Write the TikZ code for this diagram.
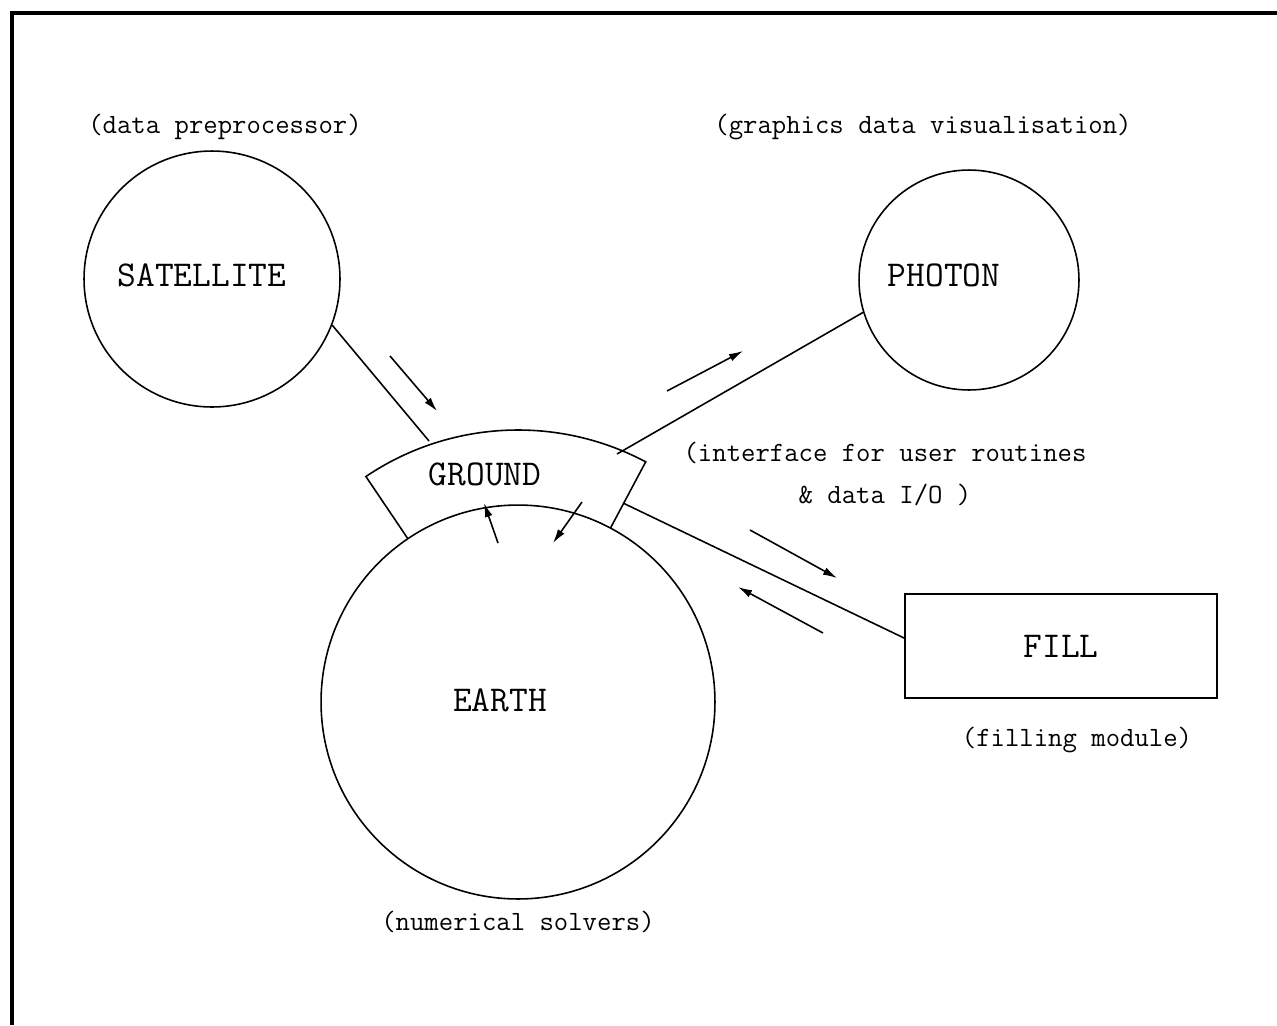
\documentclass[tikz,border=0pt]{standalone}
\usepackage{fontspec}
\usepackage{tikz}
\usetikzlibrary{arrows.meta, positioning, calc}

\begin{document}
\begin{tikzpicture}[x=0.02cm, y=-0.02cm, >={Latex[length=8pt, width=4.5pt]}]
        \tikzstyle{module_style} = [circle, draw=black, line width=0.9pt, inner sep=0pt]
        \tikzstyle{box_style} = [rectangle, draw=black, line width=0.9pt, minimum width=6.24cm, minimum height=2.08cm, font=\fontsize{20.7}{24}\ttfamily]
        \tikzstyle{name_font} = [font=\fontsize{20.7}{24}\ttfamily]
        \tikzstyle{caption_style} = [font=\fontsize{15.9}{23.8}\ttfamily, align=center]
        \tikzstyle{link} = [line width=0.9pt]
        \tikzstyle{flow} = [line width=0.9pt, ->]

        \useasboundingbox (0,0) rectangle (1277,1025);

        % Frame
        \draw [line width=2pt] (12,1025) -- (12,13) -- (1277,13);

        % Modules
        \node (sat) [module_style, minimum size=5.12cm, label={[name_font, xshift=-5.7pt, yshift=2.3pt]center:SATELLITE}] at (212,279) {};
        \node (photon) [module_style, minimum size=4.4cm, label={[name_font, xshift=-14.2pt, yshift=2.8pt]center:PHOTON}] at (969,280) {};
        \node (earth) [module_style, minimum size=7.88cm, label={[name_font, xshift=-10.2pt, yshift=1pt]center:EARTH}] at (518,702) {};
        \node (fill) [box_style] at (1061,646) {FILL};

        % Ground layer on top of earth
        \draw [link] ($(earth.center)+(-124:197)$) -- ($(earth.center)+(-124:272)$)
            arc [start angle=-124, end angle=-62, radius=272] -- ($(earth.center)+(-62:197)$);
        \node (ground) [name_font] at (485,474) {GROUND};

        % Connection points on ground
        \coordinate (g_sat) at (429,441);
        \coordinate (g_pho) at (617,454);
        \coordinate (g_fill) at (623,503);

        % Connectors
        \draw [link] (sat.-21) -- (g_sat);
        \draw [link] (photon.-163) -- (g_pho);
        \draw [link] (g_fill) -- ([yshift=4.5pt]fill.west);

        % Data flow arrows
        \coordinate (s1) at (390,356); \coordinate (s2) at (437,411);
        \coordinate (p1) at (667,391); \coordinate (p2) at (743,351);
        \coordinate (f1) at (750,530); \coordinate (f2) at (837,578);
        \coordinate (f3) at (823,633); \coordinate (f4) at (738,587);
        \coordinate (e1) at (498,543); \coordinate (e2) at (484,503);
        \coordinate (e3) at (582,502); \coordinate (e4) at (553,543);
        \draw [flow] (s1) -- (s2);
        \draw [flow] (p1) -- (p2);
        \draw [flow] (f1) -- (f2);
        \draw [flow] (f3) -- (f4);
        \draw [flow] (e1) -- (e2);
        \draw [flow] (e3) -- (e4);

        % Text annotations
        \node (sat_cap) [caption_style] at (225,127) {(data preprocessor)};
        \node (pho_cap) [caption_style] at (923,127) {(graphics data visualisation)};
        \node (gnd_cap) [caption_style] at (885,474) {(interface for user routines\\\& data I/O )};
        \node (earth_cap) [caption_style] at (518,922) {(numerical solvers)};
        \node (fill_cap) [caption_style] at (1077,740) {(filling module)};
\end{tikzpicture}
\end{document}
